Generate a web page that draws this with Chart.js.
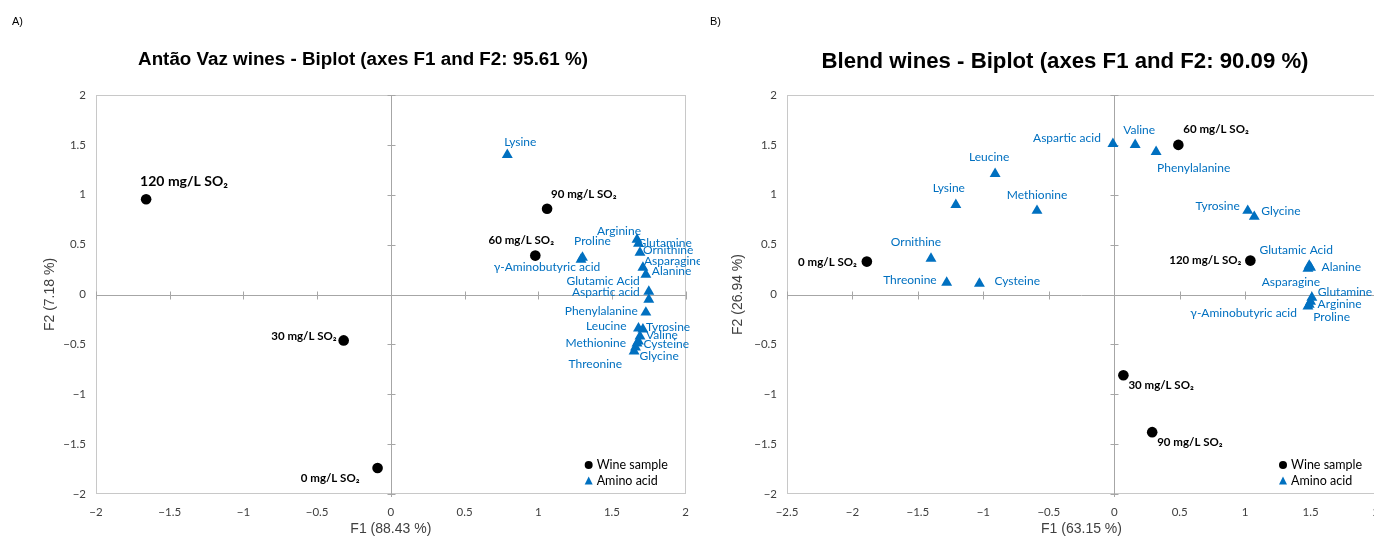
<!DOCTYPE html>
<html><head><meta charset="utf-8">
<script src="https://cdn.jsdelivr.net/npm/chart.js@4.4.1/dist/chart.umd.min.js"></script>
<style>
html,body{margin:0;padding:0;background:#fff;overflow:hidden;width:1374px;height:543px;position:relative;}
#ca{position:absolute;left:0;top:0;}
#cb{position:absolute;left:700px;top:0;}
</style></head><body>
<canvas id="ca" width="700" height="543"></canvas>
<canvas id="cb" width="700" height="543"></canvas>
<script>
// ---------- DATA ----------
// A) Antão Vaz wines
const aWineNames = ['0 mg/L SO₂','30 mg/L SO₂','60 mg/L SO₂','90 mg/L SO₂','120 mg/L SO₂'];
const aWineF1 = [-0.09, -0.32, 0.98, 1.06, -1.66];
const aWineF2 = [-1.74, -0.46, 0.39, 0.86, 0.955];
const aAminoNames = ['Lysine','Proline','γ-Aminobutyric acid','Arginine','Glutamine','Ornithine','Asparagine','Alanine','Glutamic Acid','Aspartic acid','Phenylalanine','Leucine','Tyrosine','Valine','Cysteine','Methionine','Glycine','Threonine'];
const aAminoF1 = [0.79, 1.30, 1.29, 1.67, 1.68, 1.69, 1.71, 1.73, 1.75, 1.75, 1.73, 1.68, 1.71, 1.69, 1.68, 1.67, 1.66, 1.65];
const aAminoF2 = [1.40, 0.37, 0.35, 0.55, 0.51, 0.42, 0.27, 0.20, 0.03, -0.05, -0.18, -0.34, -0.35, -0.42, -0.47, -0.49, -0.53, -0.57];
// B) Blend wines
const bWineNames = ['0 mg/L SO₂','30 mg/L SO₂','60 mg/L SO₂','90 mg/L SO₂','120 mg/L SO₂'];
const bWineF1 = [-1.89, 0.07, 0.49, 0.29, 1.04];
const bWineF2 = [0.33, -0.81, 1.50, -1.38, 0.34];
const bAminoNames = ['Aspartic acid','Valine','Phenylalanine','Leucine','Lysine','Methionine','Tyrosine','Glycine','Ornithine','Threonine','Cysteine','Glutamic Acid','Alanine','Asparagine','Glutamine','Arginine','Proline','γ-Aminobutyric acid'];
const bAminoF1 = [-0.01, 0.16, 0.32, -0.91, -1.21, -0.59, 1.02, 1.07, -1.40, -1.28, -1.03, 1.49, 1.50, 1.48, 1.51, 1.50, 1.49, 1.48];
const bAminoF2 = [1.51, 1.50, 1.43, 1.21, 0.90, 0.84, 0.84, 0.78, 0.36, 0.12, 0.11, 0.29, 0.27, 0.26, -0.03, -0.07, -0.10, -0.12];

// ---------- LABEL PLACEMENT (style only) ----------
const aPlace = {
  '0 mg/L SO₂':['right',-18,10], '30 mg/L SO₂':['right',-7,-4], '60 mg/L SO₂':['center',-14,-15],
  '90 mg/L SO₂':['left',4,-14], '120 mg/L SO₂':['left',-6,-18,14],
  'Lysine':['center',13,-13], 'Proline':['center',10,-16], 'γ-Aminobutyric acid':['center',-34,8],
  'Arginine':['right',4,-9], 'Glutamine':['left',-1,-1], 'Ornithine':['left',3,-2], 'Asparagine':['left',1,-6],
  'Alanine':['left',6,-3], 'Glutamic Acid':['right',-9,-10], 'Aspartic acid':['right',-9,-7],
  'Phenylalanine':['right',-8,-1], 'Leucine':['right',-12,-2], 'Tyrosine':['left',3,-2], 'Valine':['left',6,-1],
  'Methionine':['right',-11,0], 'Cysteine':['left',5,3], 'Glycine':['left',4,9], 'Threonine':['right',-12,13]
};
const bPlace = {
  '0 mg/L SO₂':['right',-10,1], '30 mg/L SO₂':['left',5,10], '60 mg/L SO₂':['left',5,-16],
  '90 mg/L SO₂':['left',5,10], '120 mg/L SO₂':['right',-9,0],
  'Aspartic acid':['right',-12,-6], 'Valine':['center',4,-15], 'Phenylalanine':['left',1,16],
  'Leucine':['center',-6,-17], 'Lysine':['center',-7,-17], 'Methionine':['center',0,-16],
  'Tyrosine':['right',-8,-5], 'Glycine':['left',7,-6], 'Ornithine':['center',-15,-16],
  'Threonine':['right',-10,-2], 'Cysteine':['left',15,-2], 'Glutamic Acid':['center',-13,-15],
  'Alanine':['left',11,0], 'Asparagine':['center',-17,14], 'Glutamine':['left',6,-5],
  'Arginine':['left',7,3], 'Proline':['left',4,13], 'γ-Aminobutyric acid':['right',-11,7]
};

const BLUE = '#0070C0';
const TICK_FONT = {family:'Lato, "Noto Sans", sans-serif', size:11.5};
const LABEL_FAMILY = 'Lato, "Noto Sans", sans-serif';

const fmt = v => (v < 0 ? '\u2212' + Math.abs(v) : String(v));

const framePlugin = {
  id:'frame',
  beforeDatasetsDraw(chart){
    const {ctx, chartArea:a, scales:{x,y}} = chart;
    ctx.save();
    ctx.strokeStyle = '#c8c8c8'; ctx.lineWidth = 1;
    ctx.strokeRect(Math.round(a.left)+0.5, Math.round(a.top)+0.5, Math.round(a.right-a.left)-1, Math.round(a.bottom-a.top)-1);
    const x0 = Math.round(x.getPixelForValue(0))+0.5, y0 = Math.round(y.getPixelForValue(0))+0.5;
    ctx.strokeStyle = '#a6a6a6';
    ctx.beginPath();
    ctx.moveTo(x0, a.top); ctx.lineTo(x0, a.bottom+3);
    ctx.moveTo(a.left, y0); ctx.lineTo(a.right, y0);
    y.ticks.forEach(t => { const p = Math.round(y.getPixelForValue(t.value))+0.5; ctx.moveTo(x0-4,p); ctx.lineTo(x0+4,p); });
    x.ticks.forEach(t => { const p = Math.round(x.getPixelForValue(t.value))+0.5; ctx.moveTo(p,y0-4); ctx.lineTo(p,y0+4); });
    ctx.stroke();
    ctx.restore();
  }
};

const labelPlugin = {
  id:'ptlabels',
  afterDatasetsDraw(chart, args, opts){
    const {ctx} = chart;
    chart.data.datasets.forEach((ds, di) => {
      const meta = chart.getDatasetMeta(di);
      meta.data.forEach((el, i) => {
        const name = ds.names[i];
        const pl = opts.place[name] || ['left',6,0];
        ctx.save();
        ctx.font = (ds.bold ? 'bold ' : '') + (pl[3] || ds.labelSize) + 'px ' + LABEL_FAMILY;
        ctx.fillStyle = ds.labelColor;
        ctx.textAlign = pl[0];
        ctx.textBaseline = 'middle';
        ctx.fillText(name, el.x + pl[1], el.y + pl[2]);
        ctx.restore();
      });
    });
  }
};

const legendPlugin = {
  id:'innerLegend',
  afterDraw(chart, args, opts){
    const {ctx, chartArea:a} = chart;
    const mx = a.right - opts.dx;
    ctx.save();
    ctx.font = '12.5px ' + LABEL_FAMILY;
    ctx.textBaseline = 'middle';
    chart.data.datasets.forEach((ds, i) => {
      const yy = a.bottom - 29 + i * 16;
      ctx.fillStyle = ds.backgroundColor;
      ctx.beginPath();
      if (ds.pointStyle === 'circle') { ctx.arc(mx, yy, 4, 0, Math.PI*2); }
      else { ctx.moveTo(mx, yy-4.5); ctx.lineTo(mx+4, yy+3.5); ctx.lineTo(mx-4, yy+3.5); ctx.closePath(); }
      ctx.fill();
      ctx.fillStyle = '#000';
      ctx.fillText(ds.label, mx + 8, yy);
    });
    ctx.restore();
  }
};

const headPlugin = {
  id:'head',
  afterDraw(chart, args, opts){
    const {ctx} = chart;
    ctx.save();
    ctx.fillStyle = '#000';
    ctx.textBaseline = 'middle';
    ctx.font = '11px "Liberation Sans Narrow", "Liberation Sans", sans-serif';
    ctx.textAlign = 'left';
    ctx.fillText(opts.tag, opts.tagX, 22);
    ctx.font = 'bold ' + opts.size + 'px "Liberation Sans", Arial, sans-serif';
    ctx.textAlign = 'center';
    ctx.fillText(opts.title, opts.cx, opts.cy);
    ctx.restore();
  }
};

function makeChart(id, cfg){
  const datasets = [
    {label:'Wine sample', names:cfg.wineNames, data:cfg.wineNames.map((n,i)=>({x:cfg.wineF1[i], y:cfg.wineF2[i]})),
     pointStyle:'circle', pointRadius:5.3, backgroundColor:'#000', borderColor:'#000', borderWidth:0,
     bold:true, labelSize:11.5, labelColor:'#000'},
    {label:'Amino acid', names:cfg.aminoNames, data:cfg.aminoNames.map((n,i)=>({x:cfg.aminoF1[i], y:cfg.aminoF2[i]})),
     pointStyle:'triangle', pointRadius:6.3, backgroundColor:BLUE, borderColor:BLUE, borderWidth:0,
     bold:false, labelSize:12, labelColor:BLUE}
  ];
  return new Chart(document.getElementById(id), {
    type:'scatter',
    data:{datasets},
    plugins:[framePlugin, labelPlugin, legendPlugin, headPlugin],
    options:{
      responsive:false, animation:false, events:[],
      layout:{padding:{left:cfg.padL, right:cfg.padR, top:95, bottom:0}},
      plugins:{
        legend:{display:false}, tooltip:{enabled:false}, title:{display:false},
        ptlabels:{place:cfg.place},
        innerLegend:{dx:cfg.legDx},
        head:{tag:cfg.tag, tagX:cfg.tagX, title:cfg.title, cx:cfg.titleX, cy:cfg.titleY, size:cfg.titleSize}
      },
      scales:{
        x:{type:'linear', min:cfg.xMin, max:cfg.xMax,
           ticks:{stepSize:0.5, padding:11, color:'#404040', font:TICK_FONT, callback:fmt, maxRotation:0, autoSkip:false},
           grid:{display:false, drawTicks:false}, border:{display:false},
           title:{display:true, text:cfg.xTitle, color:'#404040', font:{family:'"Liberation Sans", Arial, sans-serif', size:14}, padding:{top:0, bottom:5}},
           afterFit(s){ s.height = 49; }},
        y:{type:'linear', min:-2, max:2,
           ticks:{stepSize:0.5, padding:10, color:'#404040', font:TICK_FONT, callback:fmt, autoSkip:false},
           grid:{display:false, drawTicks:false}, border:{display:false},
           title:{display:true, text:cfg.yTitle, color:'#404040', font:{family:'"Liberation Sans", Arial, sans-serif', size:14}, padding:{top:12, bottom:0}},
           afterFit(s){ s.width = cfg.yW; }}
      }
    }
  });
}

makeChart('ca', {
  wineNames:aWineNames, wineF1:aWineF1, wineF2:aWineF2,
  aminoNames:aAminoNames, aminoF1:aAminoF1, aminoF2:aAminoF2, place:aPlace,
  xMin:-2, xMax:2, xTitle:'F1 (88.43 %)', yTitle:'F2 (7.18 %)',
  padL:30, padR:12, yW:66, legDx:97,
  tag:'A)', tagX:12, title:'Antão Vaz wines - Biplot (axes F1 and F2: 95.61 %)', titleX:363, titleY:60, titleSize:18.8
});
makeChart('cb', {
  wineNames:bWineNames, wineF1:bWineF1, wineF2:bWineF2,
  aminoNames:bAminoNames, aminoF1:bAminoF1, aminoF2:bAminoF2, place:bPlace,
  xMin:-2.5, xMax:2, xTitle:'F1 (63.15 %)', yTitle:'F2 (26.94 %)',
  padL:18, padR:24, yW:69, legDx:93,
  tag:'B)', tagX:10, title:'Blend wines - Biplot (axes F1 and F2: 90.09 %)', titleX:365, titleY:62, titleSize:22.2
});
</script>
</body></html>
